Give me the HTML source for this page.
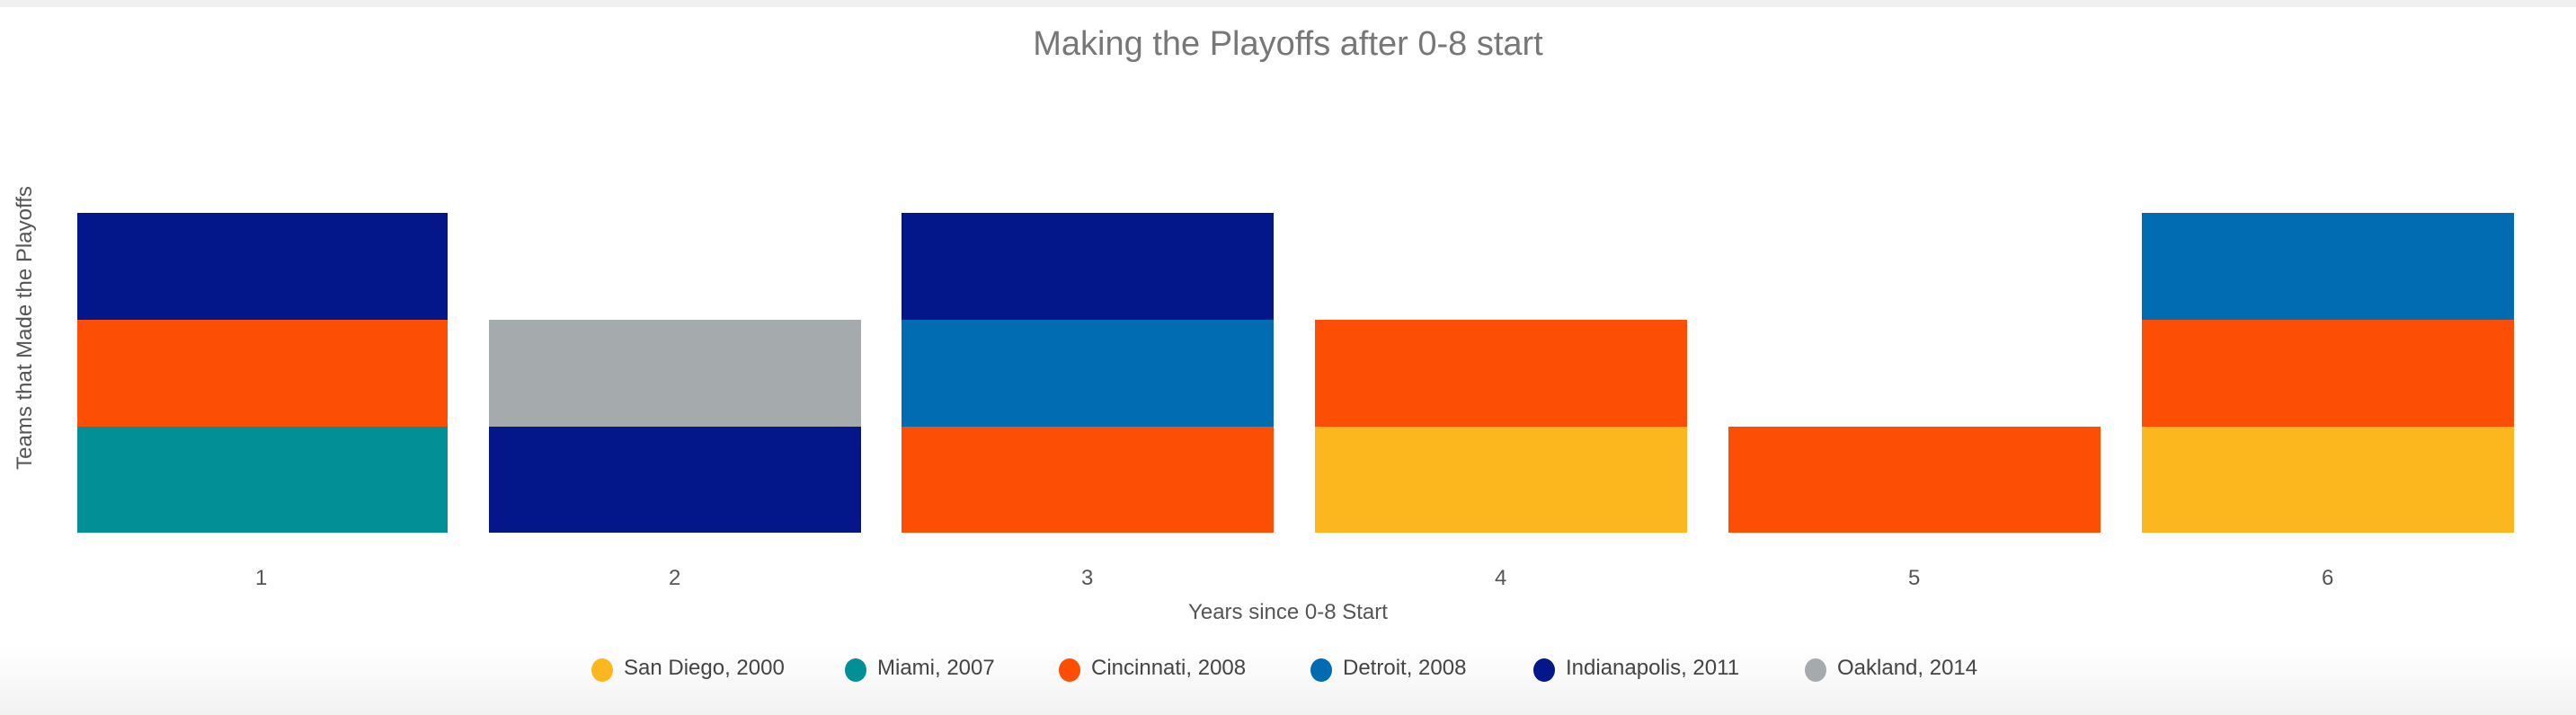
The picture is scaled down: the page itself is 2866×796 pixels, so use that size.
<!DOCTYPE html>
<html><head><meta charset="utf-8"><style>
html,body{margin:0;padding:0;}
body{width:2866px;height:796px;position:relative;overflow:hidden;background:#fff;font-family:"Liberation Sans",sans-serif;color:#555;}
.b{position:absolute;}
.t{position:absolute;white-space:nowrap;}
.d{position:absolute;width:24px;height:26px;border-radius:50%;top:733px;}
.lt{position:absolute;top:730px;font-size:24px;color:#444;white-space:nowrap;}
</style></head><body>
<div class="b" style="left:0;top:0;width:2866px;height:8px;background:#f0f0f0"></div>
<div class="b" style="left:0;top:720px;width:2866px;height:76px;background:linear-gradient(#fff,#f2f2f2)"></div>
<div class="t" style="left:0;width:2866px;text-align:center;top:28px;font-size:38px;color:#777">Making the Playoffs after 0-8 start</div>
<div class="t" style="left:28px;top:365px;font-size:24px;transform:translate(-50%,-50%) rotate(-90deg);color:#555">Teams that Made the Playoffs</div>

<!-- bar 1 -->
<div class="b" style="left:86px;top:237px;width:412px;height:119px;background:#03168a"></div>
<div class="b" style="left:86px;top:356px;width:412px;height:119px;background:#fc4f05"></div>
<div class="b" style="left:86px;top:475px;width:412px;height:118px;background:#038f96"></div>
<!-- bar 2 -->
<div class="b" style="left:544px;top:356px;width:414px;height:119px;background:#a5abac"></div>
<div class="b" style="left:544px;top:475px;width:414px;height:118px;background:#03168a"></div>
<!-- bar 3 -->
<div class="b" style="left:1003px;top:237px;width:414px;height:119px;background:#03168a"></div>
<div class="b" style="left:1003px;top:356px;width:414px;height:119px;background:#026cb3"></div>
<div class="b" style="left:1003px;top:475px;width:414px;height:118px;background:#fc4f05"></div>
<!-- bar 4 -->
<div class="b" style="left:1463px;top:356px;width:414px;height:119px;background:#fc4f05"></div>
<div class="b" style="left:1463px;top:475px;width:414px;height:118px;background:#fdb71e"></div>
<!-- bar 5 -->
<div class="b" style="left:1923px;top:475px;width:414px;height:118px;background:#fc4f05"></div>
<!-- bar 6 -->
<div class="b" style="left:2383px;top:237px;width:414px;height:119px;background:#026cb3"></div>
<div class="b" style="left:2383px;top:356px;width:414px;height:119px;background:#fc4f05"></div>
<div class="b" style="left:2383px;top:475px;width:414px;height:118px;background:#fdb71e"></div>

<div class="t" style="left:291px;top:630px;width:0;text-align:center;font-size:24px"><span style="position:relative;left:-7px">1</span></div>
<div class="t" style="left:744px;top:630px;font-size:24px">2</div>
<div class="t" style="left:1203px;top:630px;font-size:24px">3</div>
<div class="t" style="left:1663px;top:630px;font-size:24px">4</div>
<div class="t" style="left:2123px;top:630px;font-size:24px">5</div>
<div class="t" style="left:2583px;top:630px;font-size:24px">6</div>
<div class="t" style="left:0;width:2866px;text-align:center;top:668px;font-size:24px;color:#555;padding-left:-0px">Years since 0-8 Start</div>

<div class="d" style="left:658px;background:#fdb71e"></div><div class="lt" style="left:694px">San Diego, 2000</div>
<div class="d" style="left:940px;background:#038f96"></div><div class="lt" style="left:976px">Miami, 2007</div>
<div class="d" style="left:1178px;background:#fc4f05"></div><div class="lt" style="left:1214px">Cincinnati, 2008</div>
<div class="d" style="left:1458px;background:#026cb3"></div><div class="lt" style="left:1494px">Detroit, 2008</div>
<div class="d" style="left:1706px;background:#03168a"></div><div class="lt" style="left:1742px">Indianapolis, 2011</div>
<div class="d" style="left:2008px;background:#a5abac"></div><div class="lt" style="left:2044px">Oakland, 2014</div>
</body></html>
